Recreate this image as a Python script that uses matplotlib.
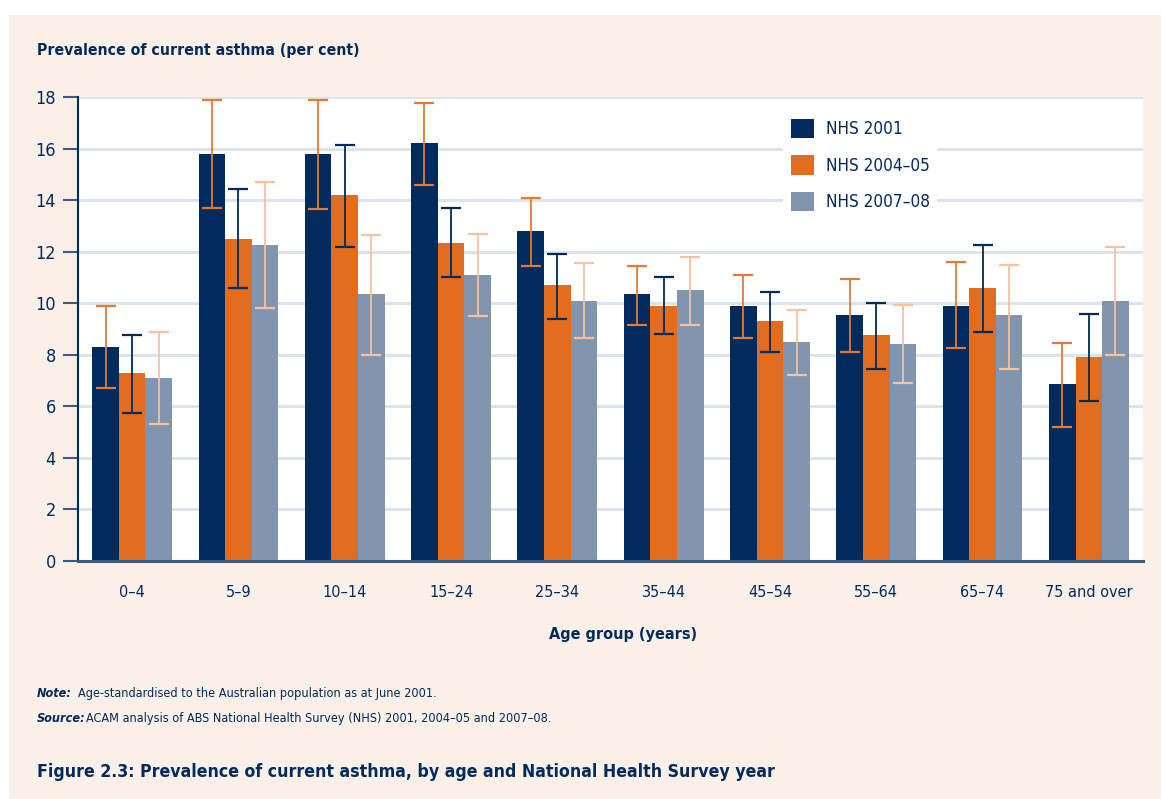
import matplotlib
matplotlib.use("Agg")
import matplotlib.pyplot as plt
from matplotlib.patches import Rectangle, Patch
import numpy as np

# ---------------- data ----------------
categories = ["0–4", "5–9", "10–14", "15–24", "25–34", "35–44", "45–54", "55–64", "65–74", "75 and over"]
series_names = ["NHS 2001", "NHS 2004–05", "NHS 2007–08"]

nhs2001 = [8.3, 15.8, 15.8, 16.2, 12.8, 10.35, 9.9, 9.55, 9.9, 6.85]
nhs2001_lo = [6.7, 13.7, 13.65, 14.6, 11.45, 9.15, 8.65, 8.1, 8.25, 5.2]
nhs2001_hi = [9.9, 17.9, 17.9, 17.75, 14.1, 11.45, 11.1, 10.95, 11.6, 8.45]

nhs2004 = [7.3, 12.5, 14.2, 12.35, 10.7, 9.9, 9.3, 8.75, 10.6, 7.9]
nhs2004_lo = [5.75, 10.6, 12.2, 11.0, 9.4, 8.8, 8.1, 7.45, 8.9, 6.2]
nhs2004_hi = [8.75, 14.45, 16.15, 13.7, 11.9, 11.0, 10.45, 10.0, 12.25, 9.6]

nhs2007 = [7.1, 12.25, 10.35, 11.1, 10.1, 10.5, 8.5, 8.4, 9.55, 10.1]
nhs2007_lo = [5.3, 9.8, 8.0, 9.5, 8.65, 9.15, 7.2, 6.9, 7.45, 8.0]
nhs2007_hi = [8.9, 14.7, 12.65, 12.7, 11.55, 11.8, 9.75, 9.95, 11.5, 12.2]

yticks = [0, 2, 4, 6, 8, 10, 12, 14, 16, 18]

# ---------------- style ----------------
NAVY = "#002b5c"
ORANGE = "#e36d1e"
ORANGE_ERR = "#e67a35"
GREY = "#8295ae"
PEACH = "#f6c3a2"
CREAM = "#fbf0e8"
GRID = "#dde3ea"
SPINE = "#3d5a80"

plt.rcParams["font.family"] = ["DejaVu Sans"]
plt.rcParams["font.stretch"] = "condensed"

W, H = 1161, 799
fig = plt.figure(figsize=(W / 100, H / 100), dpi=100)
fig.patch.set_facecolor("white")


def fx(px):
    return px / W


def fy(py):
    return 1 - py / H


# cream panel
fig.patches.append(Rectangle((fx(9), 0), 1 - fx(9), fy(15), transform=fig.transFigure,
                             facecolor=CREAM, edgecolor="none", zorder=-10))

left, right, top, bottom = 78, 1143, 97, 561
ax = fig.add_axes([fx(left), fy(bottom), fx(right) - fx(left), fy(top) - fy(bottom)])
ax.set_facecolor("white")

x = np.arange(len(categories))
bw = 0.25
series = [
    (nhs2001, nhs2001_lo, nhs2001_hi, NAVY, ORANGE_ERR),
    (nhs2004, nhs2004_lo, nhs2004_hi, ORANGE, NAVY),
    (nhs2007, nhs2007_lo, nhs2007_hi, GREY, PEACH),
]
for i, (vals, lo, hi, col, ecol) in enumerate(series):
    xs = x + (i - 1) * bw
    ax.bar(xs, vals, width=bw, color=col, zorder=3, label=series_names[i])
    v = np.array(vals)
    yerr = np.vstack([v - np.array(lo), np.array(hi) - v])
    ax.errorbar(xs, v, yerr=yerr, fmt="none", ecolor=ecol, elinewidth=1.3,
                capsize=7.2, capthick=1.6, zorder=4)

ax.set_xlim(-0.51, len(categories) - 0.49)
ax.set_ylim(0, 18)
ax.set_yticks(yticks)
ax.set_yticklabels([str(t) for t in yticks])
ax.set_xticks(x)
ax.set_xticklabels(categories)

ax.yaxis.grid(True, color=GRID, linewidth=2.2, zorder=0)
ax.set_axisbelow(True)
for s in ["top", "right"]:
    ax.spines[s].set_visible(False)
ax.spines["left"].set_color(NAVY)
ax.spines["left"].set_linewidth(1.5)
ax.spines["bottom"].set_color(SPINE)
ax.spines["bottom"].set_linewidth(2.2)
ax.spines["bottom"].set_zorder(5)

ax.tick_params(axis="y", length=11, width=1.5, color=SPINE, labelsize=13,
               labelcolor=NAVY, pad=5)
ax.tick_params(axis="x", length=0, labelsize=11.6, labelcolor=NAVY, pad=17.5)

# legend
handles = [Patch(facecolor=c, edgecolor="none") for c in (NAVY, ORANGE, GREY)]
leg = fig.legend(handles, series_names, loc="upper left",
                 bbox_to_anchor=(fx(783), fy(111)), bbox_transform=fig.transFigure,
                 frameon=True, fontsize=12.3, handlelength=1.35, handleheight=1.35,
                 handletextpad=0.7, labelspacing=1.02, borderpad=0.45,
                 borderaxespad=0)
leg.get_frame().set_facecolor("white")
leg.get_frame().set_edgecolor("none")
leg.get_frame().set_alpha(1)
leg.get_frame().set_boxstyle("square", pad=0)
for t in leg.get_texts():
    t.set_color(NAVY)

# texts
fig.text(fx(37), fy(50), "Prevalence of current asthma (per cent)", fontsize=11.3,
         fontweight="bold", color=NAVY, va="center", ha="left")
fig.text(fx(623), fy(634), "Age group (years)", fontsize=11.6,
         fontweight="bold", color=NAVY, va="center", ha="center")

fig.text(fx(37), fy(697), "Note:", fontsize=9.1, fontweight="bold", fontstyle="italic",
         color=NAVY, va="baseline", ha="left")
fig.text(fx(78), fy(697), "Age-standardised to the Australian population as at June 2001.",
         fontsize=9.1, color=NAVY, va="baseline", ha="left")
fig.text(fx(37), fy(722), "Source:", fontsize=9.1, fontweight="bold", fontstyle="italic",
         color=NAVY, va="baseline", ha="left")
fig.text(fx(86), fy(722),
         "ACAM analysis of ABS National Health Survey (NHS) 2001, 2004–05 and 2007–08.",
         fontsize=9.1, color=NAVY, va="baseline", ha="left")

fig.text(fx(37), fy(772), "Figure 2.3: Prevalence of current asthma, by age and National Health Survey year",
         fontsize=12.7, fontweight="bold", color=NAVY, va="center", ha="left")

fig.savefig("out.png", dpi=100, facecolor=fig.get_facecolor())
